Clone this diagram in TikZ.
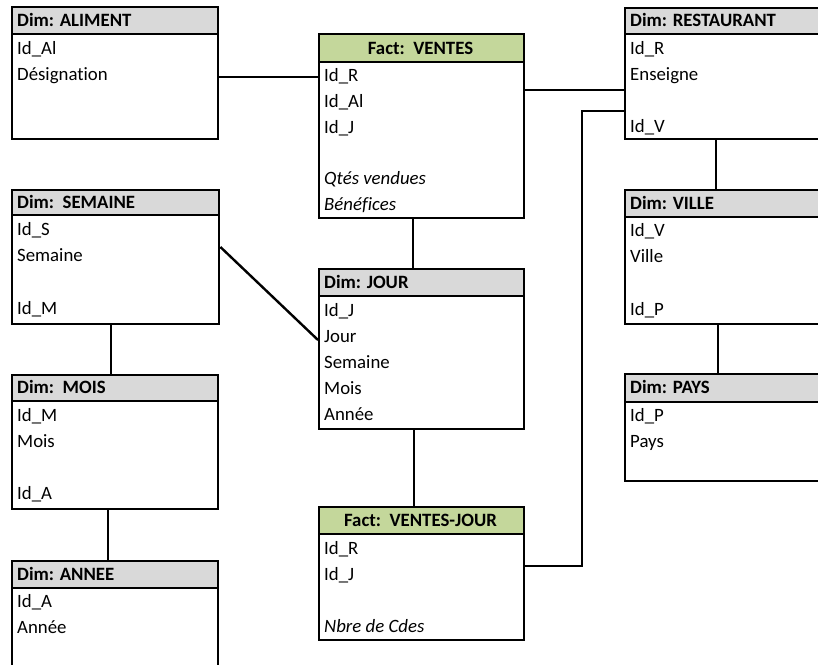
\documentclass[tikz,border=0pt]{standalone}
\usepackage{fontspec}
\setmainfont{Carlito}[Ligatures=NoCommon]
\definecolor{hdrgrey}{RGB}{217,217,217}
\definecolor{hdrgreen}{RGB}{196,215,155}
\tikzset{
  tblbody/.style={draw, line width=2.4pt, fill=white, anchor=north west, inner sep=0pt},
  dimhead/.style={draw, line width=2.4pt, fill=hdrgrey, anchor=north west, inner sep=0pt},
  facthead/.style={dimhead, fill=hdrgreen},
  dimtitle/.style={font=\bfseries\fontsize{18.8}{22}\selectfont, anchor=base west, inner sep=0pt},
  facttitle/.style={font=\bfseries\fontsize{18.8}{22}\selectfont, anchor=base, inner sep=0pt},
  rowtxt/.style={font=\fontsize{18.8}{22}\selectfont, anchor=base west, inner sep=0pt},
  measure/.style={font=\itshape\fontsize{18.8}{22}\selectfont, anchor=base west, inner sep=0pt},
  link/.style={line width=2.4pt},
}
% #1 name, #2 x, #3 top, #4 bottom, #5 header bottom, #6 width, #7 header style
\newcommand\dbtable[7]{%
  \node[tblbody, minimum width=#6pt, minimum height=#4pt-#3pt] (#1) at (#2,#3) {};
  \node[#7, minimum width=#6pt, minimum height=#5pt-#3pt] (#1H) at (#2,#3) {};
}
\begin{document}
\begin{tikzpicture}[x=1pt,y=-1pt]
\useasboundingbox (0,0) rectangle (818,664);
\clip (0,0) rectangle (818,664);
\fill[white] (0,0) rectangle (818,664);

% coordinates for connector routing
\coordinate (yAV) at (0,77);
\coordinate (yVR) at (0,90);
\coordinate (bendTop) at (582,111);
\coordinate (bendBot) at (582,566);
\coordinate (xVJ) at (413,0);
\coordinate (xJV) at (414,0);
\coordinate (semOut) at (0,247);
\coordinate (jourIn) at (0,340);
\coordinate (xSM) at (111,0);
\coordinate (xMA) at (108,0);
\coordinate (xRV) at (716,0);
\coordinate (xVP) at (718,0);

% tables
\dbtable{aliment}{11}{6}{138}{33}{206}{dimhead}
\node[dimtitle] (alimentT) at (17,26) {Dim: ALIMENT};
\node[rowtxt] (alimentR1) at (17,54) {Id\_Al};
\node[rowtxt] (alimentR2) at (17,80.5) {Désignation};

\dbtable{ventes}{318}{33}{217}{61}{205}{facthead}
\node[facttitle] (ventesT) at (420.5,54) {Fact:~~VENTES};
\node[rowtxt] (ventesR1) at (324,81.5) {Id\_R};
\node[rowtxt] (ventesR2) at (324,107) {Id\_Al};
\node[rowtxt] (ventesR3) at (324,133) {Id\_J};
\node[measure] (ventesR4) at (324,184.5) {Qtés vendues};
\node[measure] (ventesR5) at (324,210.5) {Bénéfices};

\dbtable{restaurant}{624}{7}{138}{33}{210}{dimhead}
\node[dimtitle] (restaurantT) at (630,26.5) {Dim: RESTAURANT};
\node[rowtxt] (restaurantR1) at (630,54) {Id\_R};
\node[rowtxt] (restaurantR2) at (630,80.5) {Enseigne};
\node[rowtxt] (restaurantR3) at (630,132) {Id\_V};

\dbtable{semaine}{11}{189}{323}{214}{207}{dimhead}
\node[dimtitle] (semaineT) at (17,208) {Dim:~~SEMAINE};
\node[rowtxt] (semaineR1) at (17,235.5) {Id\_S};
\node[rowtxt] (semaineR2) at (17,261.5) {Semaine};
\node[rowtxt] (semaineR3) at (17,314.5) {Id\_M};

\dbtable{ville}{624}{189}{323}{216}{210}{dimhead}
\node[dimtitle] (villeT) at (630,209) {Dim: VILLE};
\node[rowtxt] (villeR1) at (630,236) {Id\_V};
\node[rowtxt] (villeR2) at (630,262) {Ville};
\node[rowtxt] (villeR3) at (630,315) {Id\_P};

\dbtable{jour}{318}{268}{428}{295}{205}{dimhead}
\node[dimtitle] (jourT) at (324,288) {Dim: JOUR};
\node[rowtxt] (jourR1) at (324,316) {Id\_J};
\node[rowtxt] (jourR2) at (324,342) {Jour};
\node[rowtxt] (jourR3) at (324,368) {Semaine};
\node[rowtxt] (jourR4) at (324,394.5) {Mois};
\node[rowtxt] (jourR5) at (324,420.5) {Année};

\dbtable{mois}{11}{374}{508}{400}{206}{dimhead}
\node[dimtitle] (moisT) at (17,393.5) {Dim:~~MOIS};
\node[rowtxt] (moisR1) at (17,421) {Id\_M};
\node[rowtxt] (moisR2) at (17,447.5) {Mois};
\node[rowtxt] (moisR3) at (17,499.5) {Id\_A};

\dbtable{pays}{624}{373}{480}{401}{210}{dimhead}
\node[dimtitle] (paysT) at (630,393.5) {Dim: PAYS};
\node[rowtxt] (paysR1) at (630,421) {Id\_P};
\node[rowtxt] (paysR2) at (630,447.5) {Pays};

\dbtable{vj}{318}{506}{639}{533}{205}{facthead}
\node[facttitle] (vjT) at (420.5,526) {Fact:~~VENTES-JOUR};
\node[rowtxt] (vjR1) at (324,554) {Id\_R};
\node[rowtxt] (vjR2) at (324,580.5) {Id\_J};
\node[measure] (vjR3) at (324,632.5) {Nbre de Cdes};

\dbtable{annee}{11}{560}{690}{587}{206}{dimhead}
\node[dimtitle] (anneeT) at (17,580) {Dim: ANNEE};
\node[rowtxt] (anneeR1) at (17,607.5) {Id\_A};
\node[rowtxt] (anneeR2) at (17,633.5) {Année};

% connectors
\begin{scope}[link]
\draw (aliment.east |- yAV) -- (ventes.west |- yAV);
\draw (ventes.east |- yVR) -- (restaurant.west |- yVR);
\draw (vj.east |- bendBot) -- (bendBot) -- (bendTop) -- (restaurant.west |- bendTop);
\draw (ventes.south -| xVJ) -- (jourH.north -| xVJ);
\draw (jour.south -| xJV) -- (vjH.north -| xJV);
\draw (semaine.east |- semOut) -- (jour.west |- jourIn);
\draw (semaine.south -| xSM) -- (moisH.north -| xSM);
\draw (mois.south -| xMA) -- (anneeH.north -| xMA);
\draw (restaurant.south -| xRV) -- (villeH.north -| xRV);
\draw (ville.south -| xVP) -- (paysH.north -| xVP);
\end{scope}
\end{tikzpicture}
\end{document}
